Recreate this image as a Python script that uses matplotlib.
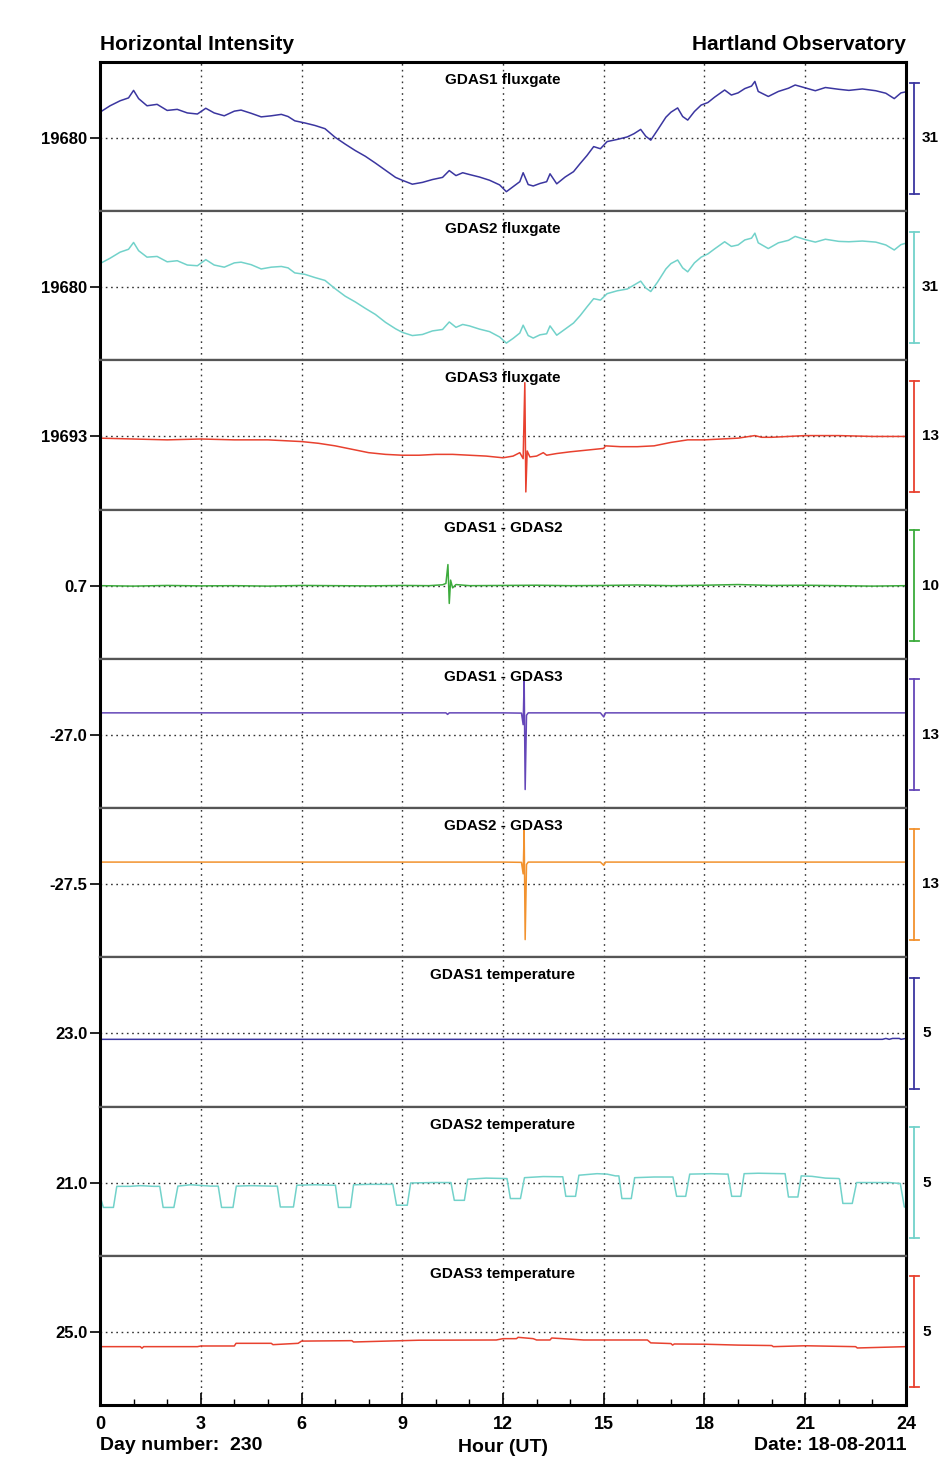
import matplotlib.pyplot as plt
from matplotlib.transforms import blended_transform_factory
from matplotlib.ticker import MultipleLocator

plt.rcParams['font.family'] = ['Liberation Sans', 'DejaVu Sans']
plt.rcParams['font.weight'] = 'bold'

# ---- data ----
flux_hours = [0.0, 0.3, 0.6, 0.85, 1.0, 1.15, 1.4, 1.7, 2.0, 2.3,
              2.6, 2.9, 3.15, 3.4, 3.7, 4.0, 4.2, 4.5, 4.8, 5.1,
              5.4, 5.6, 5.8, 6.1, 6.4, 6.7, 7.0, 7.3, 7.6, 7.9,
              8.2, 8.5, 8.8, 9.0, 9.3, 9.6, 9.9, 10.2, 10.4, 10.6,
              10.8, 11.0, 11.3, 11.6, 11.9, 12.1, 12.3, 12.5, 12.6, 12.75,
              12.9, 13.1, 13.3, 13.4, 13.6, 13.85, 14.1, 14.3, 14.5, 14.7,
              14.9, 15.1, 15.4, 15.7, 15.9, 16.1, 16.25, 16.4, 16.6, 16.85,
              17.0, 17.2, 17.35, 17.5, 17.7, 17.9, 18.1, 18.3, 18.6, 18.8,
              19.0, 19.2, 19.4, 19.5, 19.6, 19.9, 20.2, 20.5, 20.7, 21.0,
              21.3, 21.6, 22.0, 22.3, 22.7, 23.1, 23.4, 23.65, 23.85, 24.0]

gdas1_flux = [19687.2, 19689.0, 19690.4, 19691.2, 19693.3, 19691.0, 19689.0, 19689.4, 19687.7, 19688.0,
              19687.0, 19686.7, 19688.3, 19687.0, 19686.2, 19687.5, 19687.8, 19686.9, 19685.9, 19686.2,
              19686.6, 19686.0, 19684.8, 19684.2, 19683.5, 19682.6, 19680.2, 19678.3, 19676.5, 19674.9,
              19673.0, 19671.0, 19669.0, 19668.2, 19667.1, 19667.6, 19668.4, 19669.0, 19670.9, 19669.5,
              19670.3, 19669.8, 19669.1, 19668.2, 19666.9, 19665.0, 19666.4, 19667.8, 19670.3, 19667.0,
              19666.6, 19667.3, 19667.8, 19670.0, 19667.2, 19669.1, 19670.6, 19672.9, 19675.1, 19677.6,
              19677.0, 19679.0, 19679.6, 19680.3, 19681.2, 19682.4, 19680.5, 19679.4, 19682.2, 19685.8,
              19687.2, 19688.4, 19686.0, 19685.0, 19687.4, 19689.2, 19689.9, 19691.4, 19693.4, 19692.0,
              19692.6, 19693.8, 19694.5, 19695.8, 19693.0, 19691.6, 19693.0, 19693.9, 19694.8, 19694.0,
              19693.2, 19694.1, 19693.6, 19693.3, 19693.7, 19693.2, 19692.5, 19691.0, 19692.6, 19692.9]

gdas2_flux = [19686.6, 19688.1, 19689.8, 19690.6, 19692.5, 19690.2, 19688.4, 19688.6, 19687.1, 19687.4,
              19686.2, 19686.0, 19687.7, 19686.2, 19685.6, 19686.8, 19687.0, 19686.3, 19685.1, 19685.6,
              19685.8, 19685.4, 19684.0, 19683.6, 19682.7, 19681.9, 19679.6, 19677.5, 19675.9, 19674.1,
              19672.4, 19670.2, 19668.4, 19667.4, 19666.5, 19666.8, 19667.8, 19668.2, 19670.3, 19668.8,
              19669.6, 19669.2, 19668.3, 19667.6, 19666.1, 19664.4, 19665.7, 19667.2, 19669.4, 19666.5,
              19665.8, 19666.7, 19667.0, 19669.2, 19666.6, 19668.3, 19670.0, 19672.1, 19674.5, 19676.8,
              19676.4, 19678.2, 19679.0, 19679.5, 19680.6, 19681.7, 19679.8, 19678.8, 19681.4, 19685.1,
              19686.6, 19687.6, 19685.4, 19684.3, 19686.8, 19688.4, 19689.3, 19690.7, 19692.7, 19691.4,
              19691.8, 19693.2, 19693.7, 19695.1, 19692.4, 19690.8, 19692.4, 19693.1, 19694.2, 19693.3,
              19692.6, 19693.4, 19692.8, 19692.7, 19692.9, 19692.6, 19691.8, 19690.4, 19691.9, 19692.3]

gdas3_hours = [0, 1, 2, 3, 4, 5, 6, 6.5, 7, 7.5, 8, 8.5, 9, 9.5, 10, 10.5, 11, 11.5, 12, 12.3,
               12.5, 12.6, 12.65, 12.68, 12.72, 12.8, 13.0, 13.2, 13.3, 13.6, 14.0, 14.5, 15.0, 15.05,
               15.5, 16.0, 16.5, 17.0, 17.5, 18.0, 18.5, 19.0, 19.5, 19.7, 20.0, 20.5, 21.0, 22.0, 23.0, 24.0]
gdas3_flux = [19692.8, 19692.7, 19692.6, 19692.7, 19692.6, 19692.6, 19692.4, 19692.2, 19691.9, 19691.5,
              19691.1, 19690.9, 19690.8, 19690.8, 19690.9, 19690.9, 19690.8, 19690.7, 19690.5, 19690.7,
              19691.1, 19690.4, 19699.3, 19686.5, 19691.3, 19690.6, 19690.7, 19691.1, 19690.8, 19691.0,
              19691.2, 19691.4, 19691.6, 19691.9, 19691.8, 19691.8, 19691.9, 19692.3, 19692.6, 19692.6,
              19692.7, 19692.8, 19693.1, 19692.9, 19692.9, 19693.0, 19693.1, 19693.1, 19693.0, 19693.0]

diff12_hours = [0, 1, 2, 3, 4, 5, 6, 7, 8, 9, 9.8, 10.2, 10.3, 10.36, 10.4, 10.44, 10.5, 10.6,
                11, 12, 13, 14, 15, 16, 17, 18, 19, 20, 21, 22, 23, 24]
diff12 = [0.7, 0.66, 0.72, 0.68, 0.7, 0.66, 0.72, 0.7, 0.68, 0.72, 0.7, 0.78, 0.9, 2.6, -0.9, 1.2, 0.5, 0.8,
          0.7, 0.72, 0.74, 0.7, 0.72, 0.76, 0.7, 0.74, 0.8, 0.72, 0.74, 0.7, 0.66, 0.7]

diff13_hours = [0, 4, 8, 10.3, 10.35, 10.4, 12, 12.55, 12.6, 12.63, 12.66, 12.7, 12.75,
                14.9, 15.0, 15.05, 18, 21, 24]
diff13 = [-24.42, -24.42, -24.42, -24.42, -24.6, -24.42, -24.42, -24.45, -25.8, -20.4, -33.4, -24.7, -24.42,
          -24.42, -24.9, -24.42, -24.42, -24.42, -24.42]

diff23_hours = [0, 4, 8, 12, 12.55, 12.6, 12.63, 12.66, 12.7, 12.75, 14.9, 15.0, 15.05, 18, 21, 24]
diff23 = [-24.92, -24.92, -24.92, -24.92, -24.95, -26.3, -21.2, -34.0, -25.2, -24.92,
          -24.92, -25.3, -24.92, -24.92, -24.92, -24.92]

temp1_hours = [0, 6, 12, 18, 23.3, 23.4, 23.5, 23.6, 23.8, 23.85, 24.0]
temp1 = [22.73, 22.73, 22.73, 22.73, 22.73, 22.77, 22.73, 22.77, 22.77, 22.73, 22.77]

temp2_hours = [0.0, 0.1, 0.4, 0.5, 0.9, 1.2, 1.6, 1.78, 1.88, 2.2, 2.32, 2.7, 3.3, 3.52, 3.62, 3.96, 4.06,
               4.5, 5.1, 5.28, 5.37, 5.76, 5.86, 6.4, 6.95, 7.01, 7.1, 7.46, 7.55, 8.0, 8.6,
               8.72, 8.83, 9.15, 9.25, 9.9, 10.4, 10.45, 10.55, 10.85, 10.95, 11.5, 12.1,
               12.12, 12.22, 12.52, 12.64, 13.2, 13.7, 13.78, 13.87, 14.16, 14.26, 14.8, 15.1, 15.35,
               15.45, 15.54, 15.82, 15.92, 16.5, 17.0, 17.06, 17.17, 17.44, 17.56, 18.2, 18.65,
               18.7, 18.81, 19.08, 19.18, 19.6, 20.3, 20.4, 20.5, 20.78, 20.88, 21.2, 21.6, 22.0,
               22.02, 22.12, 22.4, 22.53, 23.0, 23.5, 23.8, 23.83, 23.95, 24.0]
temp2 = [20.4, 19.88, 19.88, 20.83, 20.83, 20.86, 20.83, 20.83, 19.88, 19.88, 20.84, 20.9, 20.84, 20.84, 19.88, 19.88, 20.84,
         20.86, 20.84, 20.84, 19.9, 19.9, 20.88, 20.9, 20.88, 20.88, 19.88, 19.88, 20.9, 20.92, 20.92,
         20.92, 19.98, 19.98, 20.98, 21.0, 21.0, 21.0, 20.2, 20.2, 21.15, 21.2, 21.18,
         21.18, 20.28, 20.28, 21.22, 21.27, 21.26, 21.26, 20.38, 20.38, 21.33, 21.4, 21.38, 21.3,
         21.3, 20.28, 20.28, 21.22, 21.25, 21.25, 21.25, 20.38, 20.38, 21.38, 21.4, 21.38,
         21.38, 20.38, 20.38, 21.4, 21.42, 21.4, 21.4, 20.35, 20.35, 21.3, 21.28, 21.2, 21.18,
         21.15, 20.06, 20.06, 21.0, 21.0, 21.0, 20.96, 20.96, 19.9, 19.9]

temp3_hours = [0.0, 1.2, 1.25, 1.3, 2.9, 3.0, 4.0, 4.05, 5.1, 5.15, 5.9, 6.0, 7.5, 7.55, 9.5, 11.8,
               12.0, 12.4, 12.45, 12.9, 13.0, 13.4, 13.45, 14.4, 16.3, 16.4, 17.0, 17.05, 17.1, 18.0,
               19.0, 20.0, 20.05, 21.0, 22.5, 22.55, 24.0]
temp3 = [24.33, 24.33, 24.26, 24.33, 24.33, 24.36, 24.36, 24.48, 24.48, 24.42, 24.48, 24.58, 24.6, 24.54,
         24.62, 24.63, 24.69, 24.69, 24.75, 24.69, 24.63, 24.63, 24.72, 24.63, 24.63, 24.5, 24.47, 24.4,
         24.45, 24.44, 24.4, 24.38, 24.33, 24.37, 24.33, 24.27, 24.33]

titles = ['GDAS1 fluxgate', 'GDAS2 fluxgate', 'GDAS3 fluxgate',
          'GDAS1 - GDAS2', 'GDAS1 - GDAS3', 'GDAS2 - GDAS3',
          'GDAS1 temperature', 'GDAS2 temperature', 'GDAS3 temperature']
colors = ['#3b36a0', '#72d2ca', '#e8412f', '#3cab3c', '#6446b8', '#f2922e',
          '#3b36a0', '#72d2ca', '#e8412f']
ref_values = [19680, 19680, 19693, 0.7, -27.0, -27.5, 23.0, 21.0, 25.0]
ref_labels = ['19680', '19680', '19693', '0.7', '-27.0', '-27.5', '23.0', '21.0', '25.0']
scale_ranges = [31, 31, 13, 10, 13, 13, 5, 5, 5]

series = [(flux_hours, gdas1_flux), (flux_hours, gdas2_flux), (gdas3_hours, gdas3_flux),
          (diff12_hours, diff12), (diff13_hours, diff13), (diff23_hours, diff23),
          (temp1_hours, temp1), (temp2_hours, temp2), (temp3_hours, temp3)]

# ---- layout ----
W, H = 941, 1457
fig = plt.figure(figsize=(W / 100, H / 100), dpi=100)
left, right, top, bottom = 100, 906, 62, 1405
ph = (bottom - top) / 9
bar_px = 111   # scale bar length in pixels
ref_px = 76    # reference line distance from panel top

for i in range(9):
    y0 = top + i * ph
    ax = fig.add_axes([left / W, 1 - (y0 + ph) / H, (right - left) / W, ph / H])
    hrs, vals = series[i]
    ax.plot(hrs, vals, color=colors[i], lw=1.1)

    ref = ref_values[i]
    upp = scale_ranges[i] / bar_px
    ax.set_ylim(ref - (ph - ref_px) * upp, ref + ref_px * upp)
    ax.set_xlim(0, 24)

    # dotted grid
    ax.axhline(ref, color='#333333', lw=1.0, ls=(0, (1.2, 2.6)), zorder=0)
    for h in range(3, 24, 3):
        ax.axvline(h, color='#333333', lw=1.0, ls=(0, (1.2, 3.0)), zorder=0)

    ax.set_yticks([ref])
    ax.set_yticklabels([ref_labels[i]])
    ax.tick_params(axis='y', direction='out', length=7, width=1.2, pad=2, labelsize=12)

    ax.set_xticks(range(0, 25, 3))
    ax.xaxis.set_minor_locator(MultipleLocator(1))
    if i == 8:
        ax.tick_params(axis='x', which='major', direction='in', length=9, width=1.2,
                       labelsize=13, pad=8)
        ax.tick_params(axis='x', which='minor', direction='in', length=4, width=1.0)
    else:
        ax.tick_params(axis='x', which='both', length=0, labelbottom=False)

    for s in ['left', 'right']:
        ax.spines[s].set_color('black')
        ax.spines[s].set_linewidth(2.2)
    for s in ['top', 'bottom']:
        ax.spines[s].set_color('#555555')
        ax.spines[s].set_linewidth(1.6)
    if i == 0:
        ax.spines['top'].set_color('black')
        ax.spines['top'].set_linewidth(2.2)
    if i == 8:
        ax.spines['bottom'].set_color('black')
        ax.spines['bottom'].set_linewidth(2.2)

    ax.text(0.5, 1 - 18 / ph, titles[i], transform=ax.transAxes, ha='center', va='center',
            fontsize=11, fontweight='bold')

    # scale bar at the right
    trans = blended_transform_factory(ax.transAxes, ax.transData)
    xb = (914 - left) / (right - left)
    cap = 4.5 / (right - left)
    half = scale_ranges[i] / 2
    ax.plot([xb, xb], [ref - half, ref + half], color=colors[i], lw=1.3,
            transform=trans, clip_on=False)
    for yy in (ref - half, ref + half):
        ax.plot([xb - cap, xb + cap], [yy, yy], color=colors[i], lw=1.3,
                transform=trans, clip_on=False)
    ax.text((922 - left) / (right - left), ref, str(scale_ranges[i]), transform=trans,
            ha='left', va='center', fontsize=11, fontweight='bold', clip_on=False)

fig.text(left / W, 1 - 45 / H, 'Horizontal Intensity', ha='left', va='center', fontsize=15)
fig.text(right / W, 1 - 45 / H, 'Hartland Observatory', ha='right', va='center', fontsize=15)
fig.text(left / W, 1 - 1446 / H, 'Day number:  230', ha='left', va='center', fontsize=14)
fig.text((left + right) / 2 / W, 1 - 1448 / H, 'Hour (UT)', ha='center', va='center', fontsize=14)
fig.text(right / W, 1 - 1446 / H, 'Date: 18-08-2011', ha='right', va='center', fontsize=14)

fig.savefig('out.png', dpi=100)
